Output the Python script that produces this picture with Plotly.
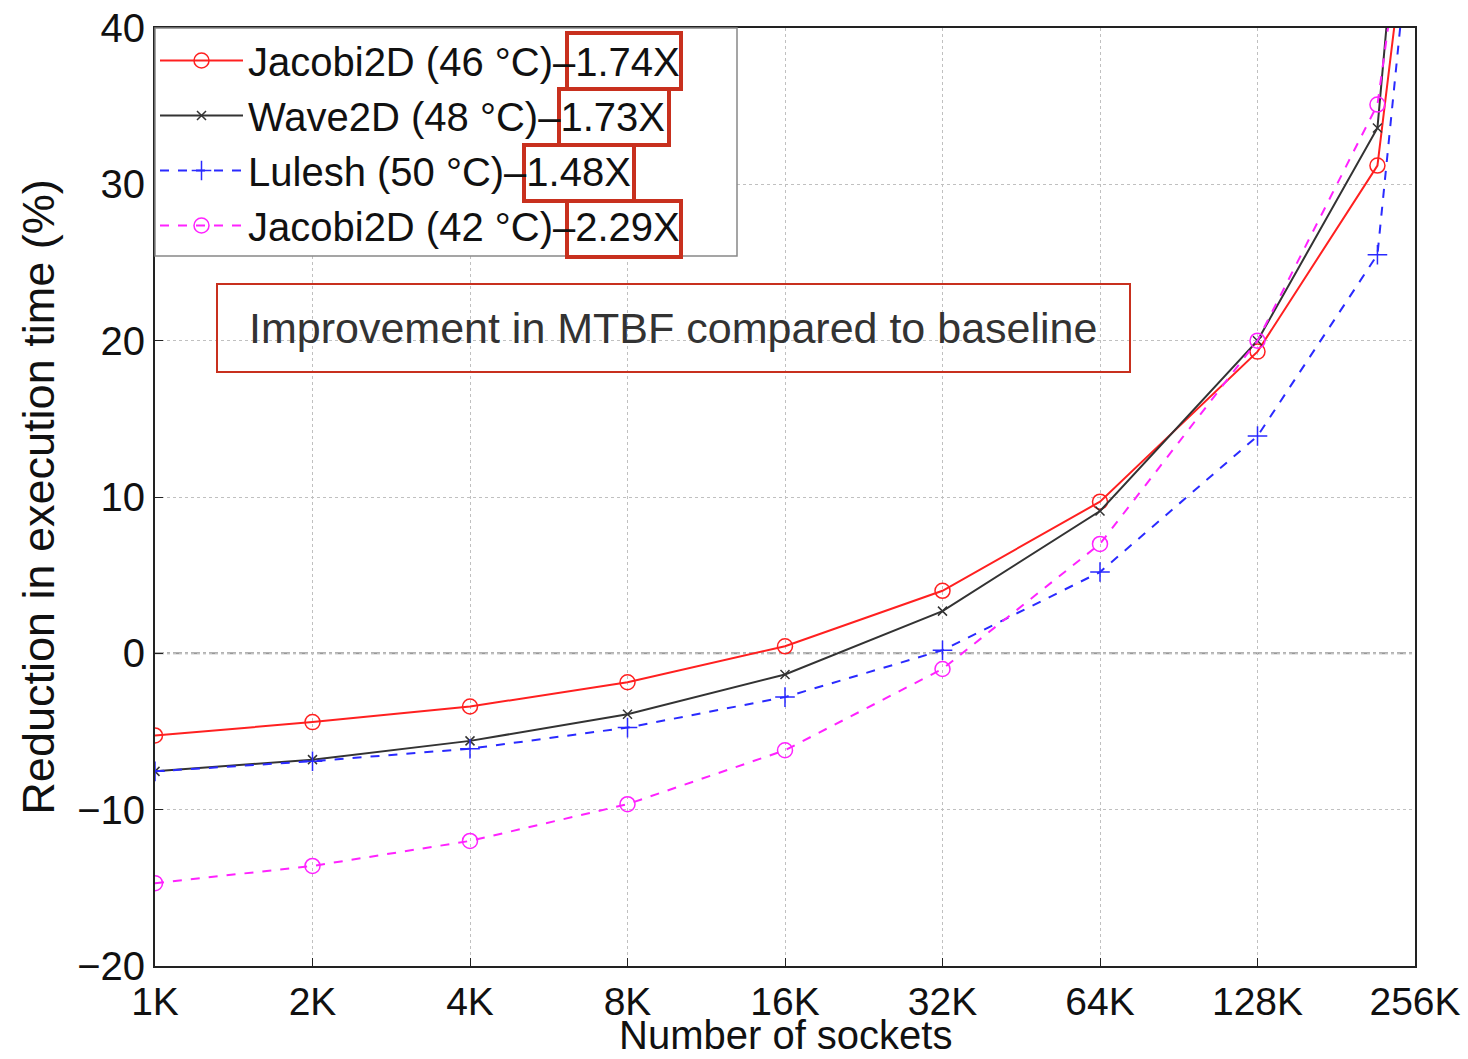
import plotly.graph_objects as go

# ---- data ----
sockets_k = [1, 2, 4, 8, 16, 32, 64, 128, 217, 256]
tick_vals = [1, 2, 4, 8, 16, 32, 64, 128, 256]
tick_text = ["1K", "2K", "4K", "8K", "16K", "32K", "64K", "128K", "256K"]

jacobi46 = [-5.25, -4.4, -3.4, -1.85, 0.45, 4.0, 9.7, 19.3, 31.2, 51.0]
wave48 = [-7.55, -6.8, -5.6, -3.9, -1.35, 2.7, 9.1, 20.0, 33.6, 60.5]
lulesh50 = [-7.55, -6.9, -6.1, -4.75, -2.8, 0.2, 5.2, 13.9, 25.5, 49.5]
jacobi42 = [-14.7, -13.6, -12.0, -9.65, -6.2, -1.0, 7.0, 20.0, 35.1, 52.5]

names = ["Jacobi2D (46 °C)–1.74X", "Wave2D (48 °C)–1.73X",
         "Lulesh (50 °C)–1.48X", "Jacobi2D (42 °C)–2.29X"]
series = [jacobi46, wave48, lulesh50, jacobi42]
colors = ["#ff2020", "#333333", "#2a2aff", "#ff22ff"]
dashes = ["solid", "solid", "dash", "dash"]
symbols = ["circle-open", "x-thin-open", "cross-thin-open", "circle-open"]
msizes = [15, 9, 14, 15]

FONT = "Liberation Sans, Arial, Helvetica, sans-serif"

# plot-area geometry (px) for decoration shapes
L, R, T, B = 155, 1415, 28, 966
W, H = 1468, 1059


def px2paper_x(px):
    return (px - L) / (R - L)


def px2paper_y(py):
    return (B - py) / (B - T)


fig = go.Figure()
for name, ys, c, d, s, ms in zip(names, series, colors, dashes, symbols, msizes):
    fig.add_trace(go.Scatter(
        x=sockets_k, y=ys, name=name, mode="lines+markers",
        line=dict(color=c, width=2, dash=d),
        marker=dict(symbol=s, size=ms, color=c, line=dict(color=c, width=1.5)),
        cliponaxis=True,
    ))

shapes = []
# dash-dot zero line
shapes.append(dict(type="line", xref="paper", yref="y", x0=0, x1=1, y0=0, y1=0,
                   line=dict(color="#999999", width=2, dash="dashdot"), layer="below"))
# legend background box
shapes.append(dict(type="rect", xref="paper", yref="paper",
                   x0=px2paper_x(155), x1=px2paper_x(737),
                   y0=px2paper_y(256), y1=px2paper_y(28),
                   line=dict(color="#888888", width=1.5), fillcolor="white", layer="above"))
# annotation box
shapes.append(dict(type="rect", xref="paper", yref="paper",
                   x0=px2paper_x(217), x1=px2paper_x(1130),
                   y0=px2paper_y(372), y1=px2paper_y(284),
                   line=dict(color="#c8301e", width=2), fillcolor="rgba(0,0,0,0)"))
# red boxes around legend numbers
boxes = [(567, 33, 681, 89), (559, 89, 669, 145), (524, 145, 634, 201), (567, 201, 681, 257)]
for x0, y0, x1, y1 in boxes:
    shapes.append(dict(type="rect", xref="paper", yref="paper",
                       x0=px2paper_x(x0), x1=px2paper_x(x1),
                       y0=px2paper_y(y1), y1=px2paper_y(y0),
                       line=dict(color="#c8301e", width=4), fillcolor="rgba(0,0,0,0)"))

fig.update_layout(
    width=W, height=H,
    margin=dict(l=L, r=W - R, t=T, b=H - B, autoexpand=False),
    paper_bgcolor="white", plot_bgcolor="white",
    font=dict(family=FONT, size=40, color="#111111"),
    showlegend=True,
    legend=dict(x=0, y=1, xanchor="left", yanchor="top",
                bgcolor="rgba(0,0,0,0)", borderwidth=0,
                font=dict(size=40, family=FONT, color="#111111"),
                itemwidth=83, tracegroupgap=0),
    shapes=shapes,
    annotations=[
        dict(text="Improvement in MTBF compared to baseline",
             xref="paper", yref="paper",
             x=px2paper_x(673), y=px2paper_y(328),
             xanchor="center", yanchor="middle", showarrow=False,
             font=dict(size=43, family=FONT, color="#333333")),
        dict(text="Number of sockets",
             xref="paper", yref="paper",
             x=0.5, y=px2paper_y(1058),
             xanchor="center", yanchor="bottom", showarrow=False,
             borderpad=0,
             font=dict(size=40, family=FONT, color="#111111")),
    ],
)
fig.update_xaxes(
    type="log", range=[0, 2.40824],
    tickvals=tick_vals, ticktext=tick_text,
    showline=True, linecolor="#222222", linewidth=2, mirror=True,
    ticks="inside", ticklen=8, tickcolor="#222222",
    showgrid=True, gridcolor="#c0c0c0", griddash="dot", gridwidth=1,
    zeroline=False, automargin=False,
    tickfont=dict(size=39),
)
fig.update_yaxes(
    range=[-20, 40], tickvals=[-20, -10, 0, 10, 20, 30, 40],
    showline=True, linecolor="#222222", linewidth=2, mirror=True,
    ticks="inside", ticklen=8, tickcolor="#222222",
    showgrid=True, gridcolor="#c0c0c0", griddash="dot", gridwidth=1,
    zeroline=False, automargin=False,
    title=dict(text="Reduction in execution time (%)", standoff=8, font=dict(size=45)),
    tickfont=dict(size=40),
)

fig.write_html("out.html")
